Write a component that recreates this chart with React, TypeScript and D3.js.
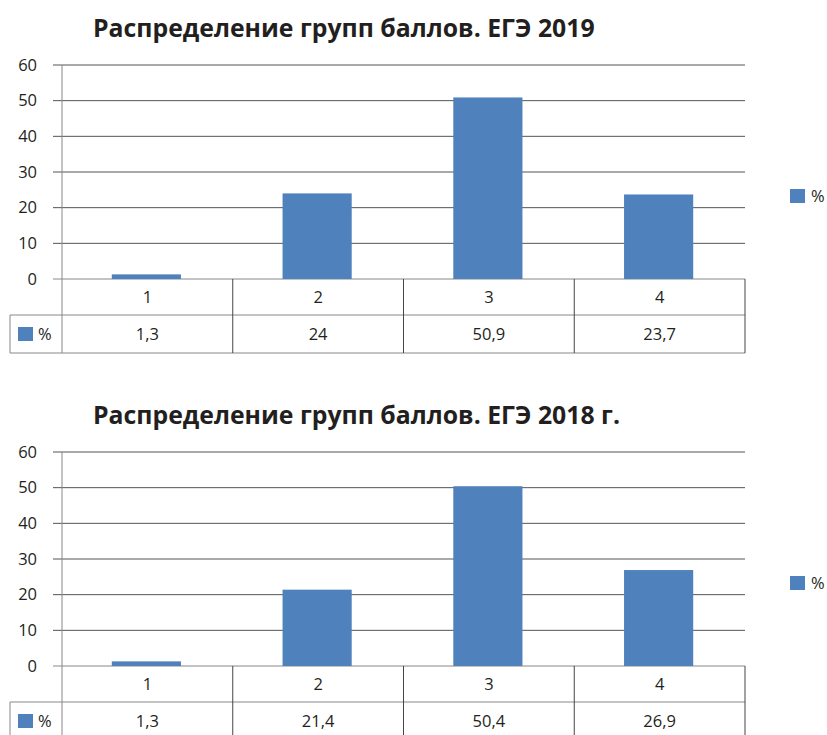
import React from "react";
import * as d3 from "d3";

const categories = ["1", "2", "3", "4"];
const values2019 = [1.3, 24, 50.9, 23.7];
const labels2019 = ["1,3", "24", "50,9", "23,7"];
const values2018 = [1.3, 21.4, 50.4, 26.9];
const labels2018 = ["1,3", "21,4", "50,4", "26,9"];
const yTicks = [0, 10, 20, 30, 40, 50, 60];
const seriesName = "%";
const title2019 = "Распределение групп баллов. ЕГЭ 2019";
const title2018 = "Распределение групп баллов. ЕГЭ 2018 г.";

const BAR = "#4f81bd";
const FONT = "'Open Sans', 'Noto Sans', sans-serif";
const FS = 16.5;

function Chart({ top, title, values, labels }: { top: number; title: string; values: number[]; labels: string[] }) {
  const x0 = 62, x1 = 745;
  const yTop = top + 65, yBottom = top + 279;
  const x = d3.scaleBand<string>().domain(categories).range([x0, x1]).paddingInner(0).paddingOuter(0);
  const y = d3.scaleLinear().domain([0, 60]).range([yBottom, yTop]);
  const bw = x.bandwidth();
  const barW = bw * 0.405;
  const row1 = yBottom + 36;
  const row2 = row1 + 38;
  return (
    <g>
      <text x={93} y={top + 37} fontFamily={FONT} fontWeight={700} fontSize={24.8} fill="#231f20">{title}</text>
      {yTicks.map((t) => (
        <g key={t}>
          <line x1={53} x2={x1} y1={y(t)} y2={y(t)} stroke={t === 0 ? "#888" : "#555"} strokeWidth={1} />
          <text x={37} y={y(t)} dy="0.35em" textAnchor="end" fontFamily={FONT} fontSize={FS} fill="#231f20">{t}</text>
        </g>
      ))}
      {categories.map((c, i) => (
        <rect key={c} x={x(c)! + bw / 2 - barW / 2 - 1} y={y(values[i])} width={barW} height={yBottom - y(values[i])} fill={BAR} />
      ))}
      <line x1={x0} x2={x0} y1={yTop} y2={row2} stroke="#888" />
      <line x1={10} x2={x1} y1={row1} y2={row1} stroke="#888" />
      <line x1={10} x2={x1} y1={row2} y2={row2} stroke="#888" />
      <line x1={10} x2={10} y1={row1} y2={row2} stroke="#888" />
      {categories.map((c) => (
        <line key={"v" + c} x1={x(c)! + bw} x2={x(c)! + bw} y1={yBottom} y2={row2} stroke="#444" />
      ))}
      {categories.map((c, i) => (
        <g key={"t" + c}>
          <text x={x(c)! + bw / 2} y={(yBottom + row1) / 2} dy="0.35em" textAnchor="middle" fontFamily={FONT} fontSize={FS} fill="#231f20">{c}</text>
          <text x={x(c)! + bw / 2} y={(row1 + row2) / 2} dy="0.35em" textAnchor="middle" fontFamily={FONT} fontSize={FS} fill="#231f20">{labels[i]}</text>
        </g>
      ))}
      <rect x={18} y={(row1 + row2) / 2 - 7} width={15} height={14} fill={BAR} />
      <text x={38} y={(row1 + row2) / 2} dy="0.35em" fontFamily={FONT} fontSize={FS} fill="#231f20">{seriesName}</text>
      <rect x={790} y={top + 189} width={15} height={14} fill={BAR} />
      <text x={811} y={top + 196} dy="0.35em" fontFamily={FONT} fontSize={FS} fill="#231f20">{seriesName}</text>
    </g>
  );
}

export default function App() {
  return (
    <svg width={827} height={735} style={{ position: "absolute", left: 0, top: 0, background: "#fff" }}>
      <rect width={827} height={735} fill="#fff" />
      <Chart top={0} title={title2019} values={values2019} labels={labels2019} />
      <Chart top={387} title={title2018} values={values2018} labels={labels2018} />
    </svg>
  );
}
